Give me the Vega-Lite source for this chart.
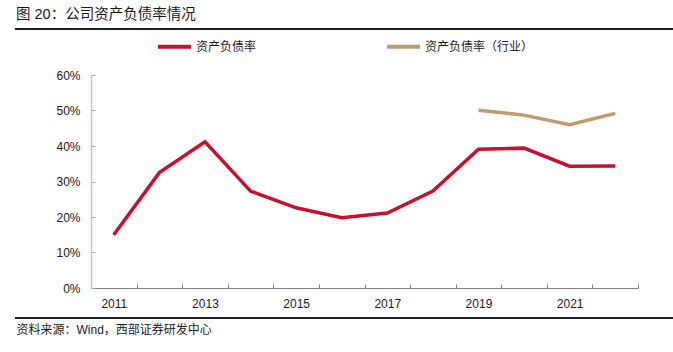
{
  "$schema": "https://vega.github.io/schema/vega-lite/v6.json",
  "autosize": "none",
  "width": 547,
  "height": 213,
  "padding": {"left": 91, "top": 75, "right": 35, "bottom": 64},
  "background": "#ffffff",
  "config": {
    "view": {"stroke": null},
    "font": "Liberation Sans, Noto Sans CJK SC"
  },
  "title": {
    "text": "图 20：公司资产负债率情况",
    "anchor": "start",
    "frame": "group",
    "orient": "top",
    "offset": 0,
    "baseline": "middle",
    "dx": -75,
    "dy": 1,
    "font": "Liberation Sans, Noto Sans CJK SC",
    "fontSize": 14.5,
    "fontWeight": "normal",
    "color": "#1a1a1a"
  },
  "data": {
    "values": [
      {"year": "2011", "series": "资产负债率", "value": 0.150},
      {"year": "2012", "series": "资产负债率", "value": 0.325},
      {"year": "2013", "series": "资产负债率", "value": 0.412},
      {"year": "2014", "series": "资产负债率", "value": 0.273},
      {"year": "2015", "series": "资产负债率", "value": 0.226},
      {"year": "2016", "series": "资产负债率", "value": 0.198},
      {"year": "2017", "series": "资产负债率", "value": 0.211},
      {"year": "2018", "series": "资产负债率", "value": 0.273},
      {"year": "2019", "series": "资产负债率", "value": 0.391},
      {"year": "2020", "series": "资产负债率", "value": 0.394},
      {"year": "2021", "series": "资产负债率", "value": 0.343},
      {"year": "2022", "series": "资产负债率", "value": 0.344},
      {"year": "2019", "series": "资产负债率（行业）", "value": 0.501},
      {"year": "2020", "series": "资产负债率（行业）", "value": 0.487},
      {"year": "2021", "series": "资产负债率（行业）", "value": 0.460},
      {"year": "2022", "series": "资产负债率（行业）", "value": 0.492}
    ]
  },
  "layer": [
    {
      "mark": {"type": "line", "strokeWidth": 3.5, "strokeJoin": "miter", "interpolate": "linear"},
      "encoding": {
        "x": {
          "field": "year",
          "type": "ordinal",
          "scale": {"type": "band", "paddingInner": 0, "paddingOuter": 0,
            "domain": ["2011","2012","2013","2014","2015","2016","2017","2018","2019","2020","2021","2022"]},
          "axis": {
            "title": "资料来源：Wind，西部证券研发中心",
            "titleFont": "Liberation Sans, Noto Sans CJK SC",
            "titleFontSize": 12,
            "titleFontWeight": "normal",
            "titleColor": "#1a1a1a",
            "titleAnchor": "start",
            "titleAlign": "left",
            "titleBaseline": "middle",
            "titleX": -75,
            "titleY": 41,
            "labelAngle": 0,
            "labelExpr": "toNumber(datum.value) % 2 == 1 ? datum.label : ''",
            "labelFont": "Liberation Sans",
            "labelFontSize": 12,
            "labelColor": "#1a1a1a",
            "labelPadding": 14,
            "tickBand": "extent",
            "tickSize": -4,
            "tickColor": "#808080",
            "domainColor": "#808080",
            "domainWidth": 1.2,
            "grid": false
          }
        },
        "y": {
          "field": "value",
          "type": "quantitative",
          "scale": {"domain": [0, 0.6], "nice": false, "zero": true},
          "axis": {
            "title": null,
            "values": [0, 0.1, 0.2, 0.3, 0.4, 0.5, 0.6],
            "format": ".0%",
            "labelFont": "Liberation Sans",
            "labelFontSize": 12,
            "labelColor": "#1a1a1a",
            "labelPadding": 15,
            "tickSize": -4,
            "tickColor": "#a6a6a6",
            "domainColor": "#c4c4c4",
            "domainWidth": 1.5,
            "grid": false
          }
        },
        "color": {
          "field": "series",
          "type": "nominal",
          "scale": {"domain": ["资产负债率", "资产负债率（行业）"], "range": ["#C8102E", "#C09B72"]},
          "legend": {
            "title": null,
            "orient": "none",
            "direction": "horizontal",
            "legendX": 65,
            "legendY": -47,
            "symbolType": "stroke",
            "symbolSize": 1089,
            "symbolStrokeWidth": 4,
            "labelOffset": 3,
            "columnPadding": 122,
            "labelFont": "Noto Sans CJK SC",
            "labelFontSize": 12,
            "labelColor": "#1a1a1a",
            "labelLimit": 300
          }
        }
      }
    },
    {
      "mark": {"type": "rule", "color": "#222222", "strokeWidth": 1.3},
      "encoding": {
        "x": {"value": -76},
        "x2": {"value": 582},
        "y": {"value": -46}
      }
    },
    {
      "mark": {"type": "rule", "color": "#222222", "strokeWidth": 1.3},
      "encoding": {
        "x": {"value": -76},
        "x2": {"value": 582},
        "y": {"value": 243}
      }
    }
  ]
}
